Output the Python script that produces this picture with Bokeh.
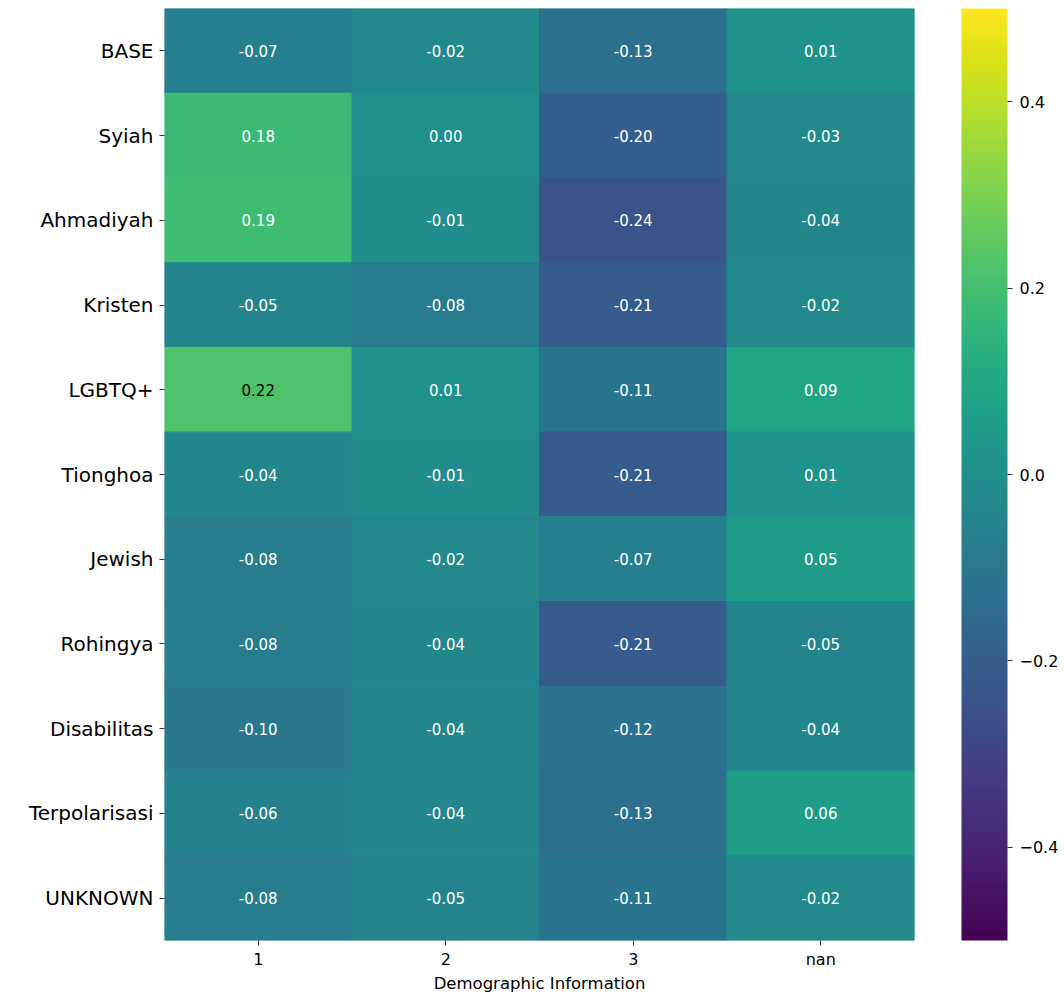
from bokeh.plotting import figure
from bokeh.models import ColumnDataSource, LinearColorMapper, ColorBar, FixedTicker, CustomJSTickFormatter, FactorRange
from bokeh.palettes import Viridis256
from bokeh.core.properties import value
from bokeh.embed import file_html
from bokeh.resources import INLINE

rows = ["BASE", "Syiah", "Ahmadiyah", "Kristen", "LGBTQ+", "Tionghoa", "Jewish",
        "Rohingya", "Disabilitas", "Terpolarisasi", "UNKNOWN"]
cols = ["1", "2", "3", "nan"]
vals = [
    [-0.07, -0.02, -0.13, 0.01],
    [0.18, 0.00, -0.20, -0.03],
    [0.19, -0.01, -0.24, -0.04],
    [-0.05, -0.08, -0.21, -0.02],
    [0.22, 0.01, -0.11, 0.09],
    [-0.04, -0.01, -0.21, 0.01],
    [-0.08, -0.02, -0.07, 0.05],
    [-0.08, -0.04, -0.21, -0.05],
    [-0.10, -0.04, -0.12, -0.04],
    [-0.06, -0.04, -0.13, 0.06],
    [-0.08, -0.05, -0.11, -0.02],
]
x_label = "Demographic Information"
cbar_ticks = [-0.4, -0.2, 0.0, 0.2, 0.4]
vmin, vmax = -0.5, 0.5

def color_of(v):
    t = (v - vmin) / (vmax - vmin)
    i = min(255, max(0, int(round(t * 255))))
    return Viridis256[i]

def lum(hexc):
    r, g, b = (int(hexc[k:k + 2], 16) / 255 for k in (1, 3, 5))
    def f(c):
        return c / 12.92 if c <= 0.03928 else ((c + 0.055) / 1.055) ** 2.4
    return 0.2126 * f(r) + 0.7152 * f(g) + 0.0722 * f(b)

xs, ys, vs, labels, tcols = [], [], [], [], []
for r, row in zip(rows, vals):
    for c, v in zip(cols, row):
        xs.append(c)
        ys.append(r)
        vs.append(v)
        labels.append(f"{v:.2f}")
        tcols.append("black" if lum(color_of(v)) > 0.408 else "white")

src = ColumnDataSource(dict(x=xs, y=ys, v=vs, label=labels, tc=tcols))
mapper = LinearColorMapper(palette=Viridis256, low=vmin, high=vmax)

FW, FH = 750, 932
p = figure(frame_width=FW, frame_height=FH,
           x_range=FactorRange(*cols), y_range=FactorRange(*rows[::-1]),
           output_backend="svg", toolbar_location=None,
           min_border_top=8, min_border_left=164, min_border_right=146, min_border_bottom=50)
p.rect(x="x", y="y", width=1, height=1, source=src,
       fill_color={"field": "v", "transform": mapper},
       line_color={"field": "v", "transform": mapper}, line_width=1)
p.text(x="x", y="y", text="label", source=src, text_color="tc",
       text_align="center", text_baseline="middle", text_font_size="15px",
       text_font=value("DejaVu Sans"))

p.grid.visible = False
p.outline_line_color = None
p.background_fill_color = "white"
for ax in (p.xaxis, p.yaxis):
    ax.axis_line_color = None
    ax.major_tick_in = 0
    ax.major_tick_out = 5
    ax.major_tick_line_color = "#333333"
    ax.major_label_text_font = "DejaVu Sans"
    ax.major_label_text_color = "black"
    ax.minor_tick_line_color = None
p.xaxis.major_label_text_font_size = "16px"
p.yaxis.major_label_text_font_size = "20px"
p.xaxis.major_label_standoff = 4
p.yaxis.major_label_standoff = 6
p.xaxis.axis_label = x_label
p.xaxis.axis_label_text_font = "DejaVu Sans"
p.xaxis.axis_label_text_font_style = "normal"
p.xaxis.axis_label_text_font_size = "16.5px"
p.xaxis.axis_label_text_color = "black"
p.xaxis.axis_label_standoff = 2

cb = ColorBar(color_mapper=mapper, width=46, height=FH, padding=0, margin=0,
              location=(FW + 47, 0),
              ticker=FixedTicker(ticks=cbar_ticks),
              formatter=CustomJSTickFormatter(code="return tick.toFixed(1).replace('-', '\u2212');"),
              major_tick_out=5, major_tick_in=0, major_tick_line_color="#333333",
              bar_line_color=None, border_line_color=None, background_fill_color=None,
              major_label_text_font="DejaVu Sans", major_label_text_font_size="16px",
              major_label_text_color="black", label_standoff=7,
              minor_tick_line_color=None)
p.add_layout(cb, "center")

open("out.html", "w").write(file_html(p, INLINE))
